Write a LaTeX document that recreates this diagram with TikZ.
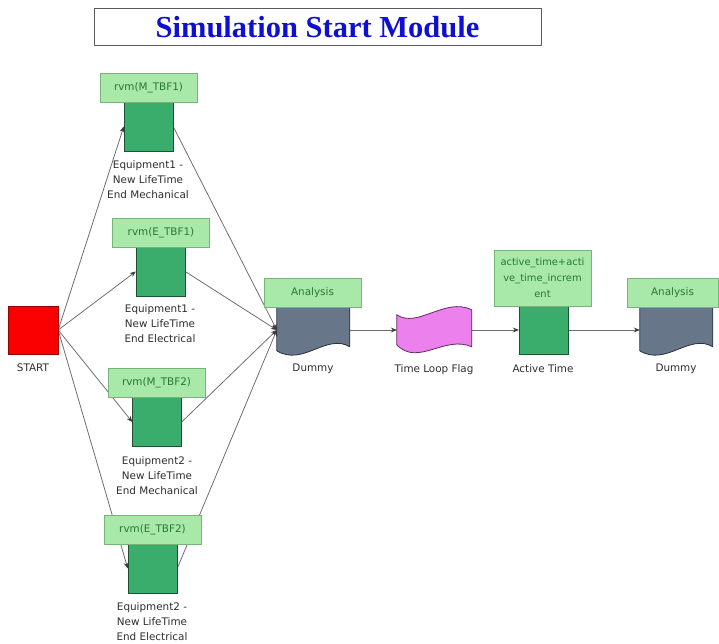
\documentclass[tikz,border=0pt]{standalone}
\usepackage{fontspec}
\setmainfont{DejaVu Sans}
\newfontfamily\headfont{Liberation Serif}
\usetikzlibrary{arrows.meta,backgrounds,calc}

\definecolor{titleblue}{RGB}{15,15,210}
\definecolor{titleborder}{RGB}{90,90,90}
\definecolor{startred}{RGB}{250,0,0}
\definecolor{startborder}{RGB}{150,0,0}
\definecolor{eqgreen}{RGB}{58,172,108}
\definecolor{eqborder}{RGB}{30,80,50}
\definecolor{lblfill}{RGB}{168,232,168}
\definecolor{lblborder}{RGB}{120,180,120}
\definecolor{lbltext}{RGB}{40,120,50}
\definecolor{docfill}{RGB}{104,118,138}
\definecolor{docborder}{RGB}{40,48,60}
\definecolor{tapefill}{RGB}{236,128,236}
\definecolor{tapeborder}{RGB}{100,40,100}
\definecolor{linegray}{RGB}{110,110,110}
\definecolor{tipgray}{RGB}{60,60,60}
\definecolor{txtgray}{RGB}{45,45,45}

\begin{document}
\begin{tikzpicture}[x=1pt,y=-1pt,
  txt/.style={font=\fontsize{10.4}{15}\selectfont, text=txtgray, align=center, inner sep=0},
  lbl/.style={draw=lblborder, fill=lblfill, inner sep=0, minimum width=97pt,
    minimum height=29pt, text=lbltext, align=center, font=\fontsize{10.4}{16}\selectfont},
  eqbox/.style={draw=eqborder, fill=eqgreen, minimum width=49pt, minimum height=49pt, inner sep=0},
  shapebox/.style={minimum width=#1, minimum height=46pt, inner sep=0},
  conn/.style={draw=linegray, line width=0.8pt,
    -{Stealth[length=6pt,width=5pt,color=tipgray]}},
  docstyle/.style={draw=docborder, fill=docfill, line width=0.8pt},
  tapestyle/.style={draw=tapeborder, fill=tapefill, line width=0.8pt}]

\useasboundingbox (0,0) rectangle (719,644);

% heading
\node[draw=titleborder, line width=1pt, fill=white, minimum width=447pt, minimum height=37pt,
  inner sep=0, font=\headfont\bfseries\fontsize{30.5}{31}\selectfont, text=titleblue]
  (title) at (317.5,27.5) {Simulation Start Module};

% start block
\node[draw=startborder, fill=startred, minimum width=50pt, minimum height=48pt, inner sep=0]
  (start) at (33,330) {};
\node[txt, anchor=north] (startlbl) at (33,364) {START};

% equipment blocks
\node[eqbox] (eqMa) at (148.5,126.5) {};
\node[lbl] (lblMa) at (148.5,87.5) {rvm(M\_TBF1)};
\node[txt, anchor=north] (txtMa) at (148,160) {Equipment1 -\\New LifeTime\\End Mechanical};

\node[eqbox] (eqEa) at (160.5,271.5) {};
\node[lbl] (lblEa) at (161,232.5) {rvm(E\_TBF1)};
\node[txt, anchor=north] (txtEa) at (160,304) {Equipment1 -\\New LifeTime\\End Electrical};

\node[eqbox] (eqMb) at (157,422) {};
\node[lbl] (lblMb) at (156.5,383) {rvm(M\_TBF2)};
\node[txt, anchor=north] (txtMb) at (157,456) {Equipment2 -\\New LifeTime\\End Mechanical};

\node[eqbox] (eqEb) at (152.5,568.5) {};
\node[lbl] (lblEb) at (152.5,530) {rvm(E\_TBF2)};
\node[txt, anchor=north] (txtEb) at (152,602) {Equipment2 -\\New LifeTime\\End Electrical};

% first analysis document
\node[shapebox=73pt] (dumA) at (313.5,330) {};
\begin{scope}[shift={(dumA.north west)}]
  \draw[docstyle] (0,0) -- (73,0) -- (73,40) .. controls (50,26) and (26,60) .. (0,44) -- cycle;
\end{scope}
\node[lbl] (lblDumA) at (312.5,292.5) {Analysis};
\node[txt, anchor=north] (txtDumA) at (313,364) {Dummy};

% loop flag tape
\node[shapebox=75pt] (flag) at (434.5,330) {};
\begin{scope}[shift={(flag.north west)}]
  \draw[tapestyle] (0,8) .. controls (21,22) and (48,-10) .. (75,3) -- (75,40)
    .. controls (48,28) and (21,60) .. (0,38) -- cycle;
\end{scope}
\node[txt, anchor=north] (txtFlag) at (434,364) {Time Loop Flag};

% active time block
\node[eqbox, minimum height=48pt] (active) at (543.5,330) {};
\node[lbl, minimum height=56pt, font=\fontsize{9.9}{16}\selectfont] (lblActive) at (542.5,278)
  {active\_time+acti\\ve\_time\_increm\\ent};
\node[txt, anchor=north] (txtActive) at (543,364) {Active Time};

% second analysis document
\node[shapebox=73pt] (dumB) at (676.5,330) {};
\begin{scope}[shift={(dumB.north west)}]
  \draw[docstyle] (0,0) -- (73,0) -- (73,40) .. controls (50,26) and (26,60) .. (0,44) -- cycle;
\end{scope}
\node[lbl, minimum width=91pt] (lblDumB) at (672.5,292.5) {Analysis};
\node[txt, anchor=north] (txtDumB) at (676,364) {Dummy};

% connectors
\begin{scope}[on background layer]
  \draw[conn] (start.east) -- (eqMa.west);
  \draw[conn] (start.east) -- (eqEa.west);
  \draw[conn] (start.east) -- (eqMb.west);
  \draw[conn] (start.east) -- (eqEb.west);
  \draw[conn] (eqMa.east) -- (dumA.west);
  \draw[conn] (eqEa.east) -- (dumA.west);
  \draw[conn] (eqMb.east) -- (dumA.west);
  \draw[conn] (eqEb.east) -- (dumA.west);
  \draw[conn] (dumA.east) -- (flag.west);
  \draw[conn] (flag.east) -- (active.west);
  \draw[conn] (active.east) -- (dumB.west);
\end{scope}
\end{tikzpicture}
\end{document}
